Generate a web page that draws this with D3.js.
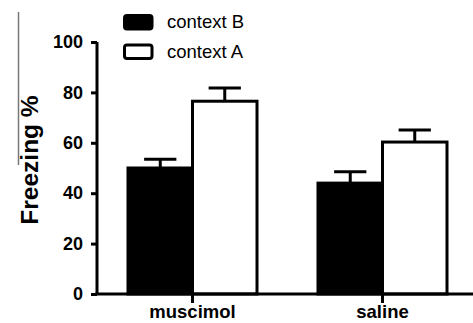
<!DOCTYPE html>
<html><head><meta charset="utf-8">
<script src="https://cdn.jsdelivr.net/npm/d3@7"></script>
<style>body{margin:0;background:#fff}svg{display:block}</style>
</head><body>
<script>
const categories = ["muscimol", "saline"];
const seriesNames = ["context B", "context A"];
const contextB = [50, 44];
const contextBErr = [3.5, 4.5];
const contextA = [76.5, 60.3];
const contextAErr = [5.2, 4.8];
const yTicks = [0, 20, 40, 60, 80, 100];

const W = 473, H = 323;
const FONT = "Liberation Sans, Arial, sans-serif";
const svg = d3.select("body").append("svg").attr("width", W).attr("height", H);
const x0 = 97, y0 = 294;
const y = d3.scaleLinear().domain([0, 100]).range([294, 42]);
const x = d3.scaleBand().domain(categories).range([128, 447]).paddingInner(0.321).paddingOuter(0);
const xs = d3.scaleBand().domain(seriesNames).range([0, x.bandwidth()]);

// faint artifact line
svg.append("line").attr("x1", 18.5).attr("x2", 18.5).attr("y1", 12).attr("y2", 165)
  .attr("stroke", "#777").attr("stroke-width", 1.5);

const series = [
  {name: "context B", vals: contextB, err: contextBErr, fill: "#000"},
  {name: "context A", vals: contextA, err: contextAErr, fill: "#fff"}
];
series.forEach(s => {
  const g = svg.append("g");
  categories.forEach((c, i) => {
    const bx = x(c) + xs(s.name), bw = xs.bandwidth();
    const cx = bx + bw / 2;
    const top = y(s.vals[i]), et = y(s.vals[i] + s.err[i]);
    g.append("line").attr("x1", cx).attr("x2", cx).attr("y1", top).attr("y2", et)
      .attr("stroke", "#000").attr("stroke-width", 3);
    g.append("line").attr("x1", cx - bw / 4).attr("x2", cx + bw / 4).attr("y1", et).attr("y2", et)
      .attr("stroke", "#000").attr("stroke-width", 3);
    g.append("rect").attr("x", bx).attr("y", top).attr("width", bw).attr("height", y(0) - top)
      .attr("fill", s.fill).attr("stroke", "#000").attr("stroke-width", 3);
  });
});

// axes
const yAxis = svg.append("g").attr("transform", `translate(${x0},0)`)
  .call(d3.axisLeft(y).tickValues(yTicks).tickSize(6).tickPadding(8));
yAxis.select(".domain").attr("stroke-width", 3).attr("d", `M0,${y(100)}V${y(0)}`);
yAxis.selectAll(".tick line").attr("stroke-width", 3);
yAxis.selectAll("text").attr("font-family", FONT)
  .attr("font-size", 18).attr("font-weight", "bold").attr("fill", "#000");

const xAxis = svg.append("g").attr("transform", `translate(0,${y0})`)
  .call(d3.axisBottom(x).tickSize(9).tickPadding(0));
xAxis.select(".domain").attr("stroke-width", 3).attr("d", `M${x0 - 1.5},0H${W + 5}`);
xAxis.selectAll(".tick line").attr("stroke-width", 3);
xAxis.selectAll("text").attr("font-family", FONT).attr("dy", null).attr("y", 24)
  .attr("font-size", 18.5).attr("font-weight", "bold").attr("fill", "#000");

// y label
svg.append("text").attr("transform", "translate(38,160) rotate(-90)")
  .attr("text-anchor", "middle").attr("font-family", FONT)
  .attr("font-size", 24.5).attr("font-weight", "bold").text("Freezing %");

// legend
series.forEach((s, i) => {
  const ly = 14 + i * 29.5;
  svg.append("rect").attr("x", 124.5).attr("y", ly + 1.5).attr("width", 27.5).attr("height", 13.5)
    .attr("rx", 2.5).attr("fill", s.fill).attr("stroke", "#000").attr("stroke-width", 3);
  svg.append("text").attr("x", 167).attr("y", ly + 14).attr("font-family", FONT)
    .attr("font-size", 18.5).text(s.name);
});
</script>
</body></html>
